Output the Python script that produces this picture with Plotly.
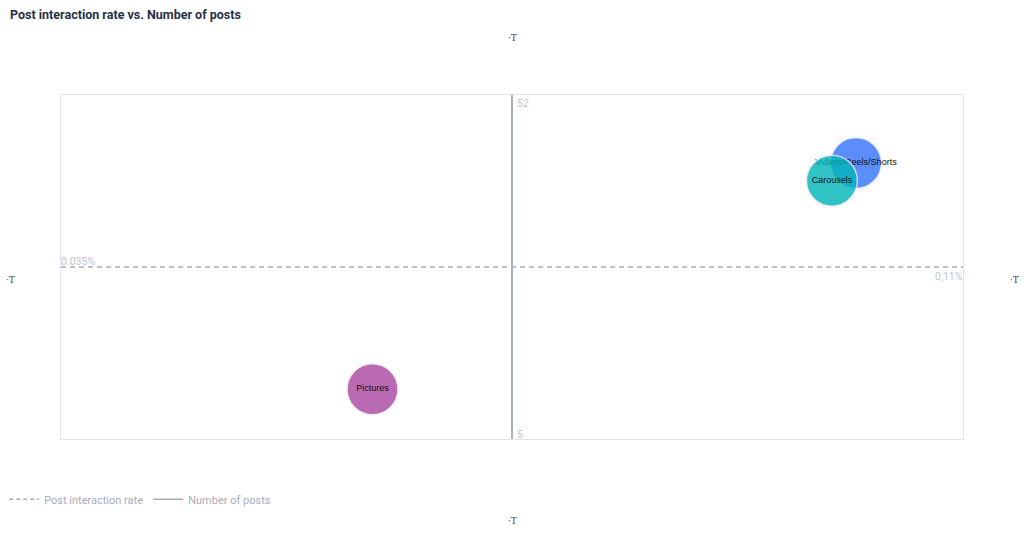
import plotly.graph_objects as go

# ---- data ----
categories = ["Pictures", "Videos/Reels/Shorts", "Carousels"]
interaction_rate = [0.0609, 0.1011, 0.0991]   # % (x)
num_posts = [11.8, 42.7, 40.3]                 # (y)
bubble_colors = ["#a8469f", "#3372f9", "#00b5ba"]
x_range = [0.035, 0.11]
y_range = [5, 52]
x_tick_labels = ["0.035%", "0,11%"]
y_tick_labels = ["52", "5"]
legend_names = ["Post interaction rate", "Number of posts"]

LINE_COL = "#a9aec0"
LABEL_COL = "#bfc3cf"
x_mid = (x_range[0] + x_range[1]) / 2
y_mid = (y_range[0] + y_range[1]) / 2

fig = go.Figure()

for name, x, y, c in zip(categories, interaction_rate, num_posts, bubble_colors):
    fig.add_trace(go.Scatter(
        x=[x], y=[y], mode="markers+text", text=[name],
        textposition="middle center",
        textfont=dict(family="Liberation Sans, Arial", size=9, color="#111111"),
        marker=dict(size=51, color=c, opacity=0.8,
                    line=dict(color="#e8e8ee", width=1.5)),
        showlegend=False, hoverinfo="skip", cliponaxis=False,
    ))

# legend dummy traces
fig.add_trace(go.Scatter(x=[None], y=[None], mode="lines", name=legend_names[0],
                         line=dict(color=LINE_COL, width=1.5, dash="4px,3px")))
fig.add_trace(go.Scatter(x=[None], y=[None], mode="lines", name=legend_names[1],
                         line=dict(color=LINE_COL, width=1.5)))

# quadrant lines
fig.add_shape(type="line", xref="x", yref="y", x0=x_range[0], x1=x_range[1],
              y0=y_mid, y1=y_mid, line=dict(color=LINE_COL, width=1.5, dash="5px,4px"),
              layer="below")
fig.add_shape(type="line", xref="x", yref="y", x0=x_mid, x1=x_mid,
              y0=y_range[0], y1=y_range[1], line=dict(color=LINE_COL, width=2),
              layer="below")

lab_font = dict(family="Roboto, Liberation Sans", size=10.5, color=LABEL_COL)
fig.add_annotation(x=x_range[0], y=y_mid, xref="x", yref="y", text=x_tick_labels[0],
                   showarrow=False, xanchor="left", yanchor="bottom", xshift=-2, yshift=-3,
                   font=lab_font)
fig.add_annotation(x=x_range[1], y=y_mid, xref="x", yref="y", text=x_tick_labels[1],
                   showarrow=False, xanchor="right", yanchor="top", xshift=2, yshift=-1,
                   font=lab_font)
fig.add_annotation(x=x_mid, y=y_range[1], xref="x", yref="y", text=y_tick_labels[0],
                   showarrow=False, xanchor="left", yanchor="top", xshift=3, yshift=0,
                   font=lab_font)
fig.add_annotation(x=x_mid, y=y_range[0], xref="x", yref="y", text=y_tick_labels[1],
                   showarrow=False, xanchor="left", yanchor="bottom", xshift=3, yshift=-4,
                   font=lab_font)

# small icon glyphs around the chart
icon_font = dict(family="DejaVu Serif", size=9, color="#3d4260")
for (px, py) in [(512, 38), (10, 280), (1014, 280), (512, 521)]:
    fig.add_annotation(x=(px - 61) / 902, y=(537 - 98 - py) / 344,
                       xref="paper", yref="paper", text="·T", showarrow=False,
                       xanchor="center", yanchor="middle", font=icon_font)

fig.update_xaxes(range=x_range, showgrid=False, zeroline=False, showticklabels=False,
                 showline=True, mirror=True, linecolor="#e2e2e6", linewidth=1, ticks="")
fig.update_yaxes(range=y_range, showgrid=False, zeroline=False, showticklabels=False,
                 showline=True, mirror=True, linecolor="#e2e2e6", linewidth=1, ticks="")

fig.update_layout(
    width=1024, height=537,
    margin=dict(l=61, r=61, t=95, b=98, autoexpand=False),
    paper_bgcolor="white", plot_bgcolor="white",
    title=dict(text="<b>Post interaction rate vs. Number of posts</b>",
               x=10 / 1024, xanchor="left", y=1 - 15 / 537, yanchor="middle",
               font=dict(family="Roboto, Liberation Sans", size=12.5, color="#283046")),
    legend=dict(orientation="h", x=-0.063, xanchor="left", y=-0.133, yanchor="top",
                font=dict(family="Roboto, Liberation Sans", size=11, color="#a8adbd"),
                itemwidth=30, bgcolor="rgba(0,0,0,0)"),
)

fig.write_html("out.html", config={"displayModeBar": False},
               post_script="document.body.style.margin='0';")
